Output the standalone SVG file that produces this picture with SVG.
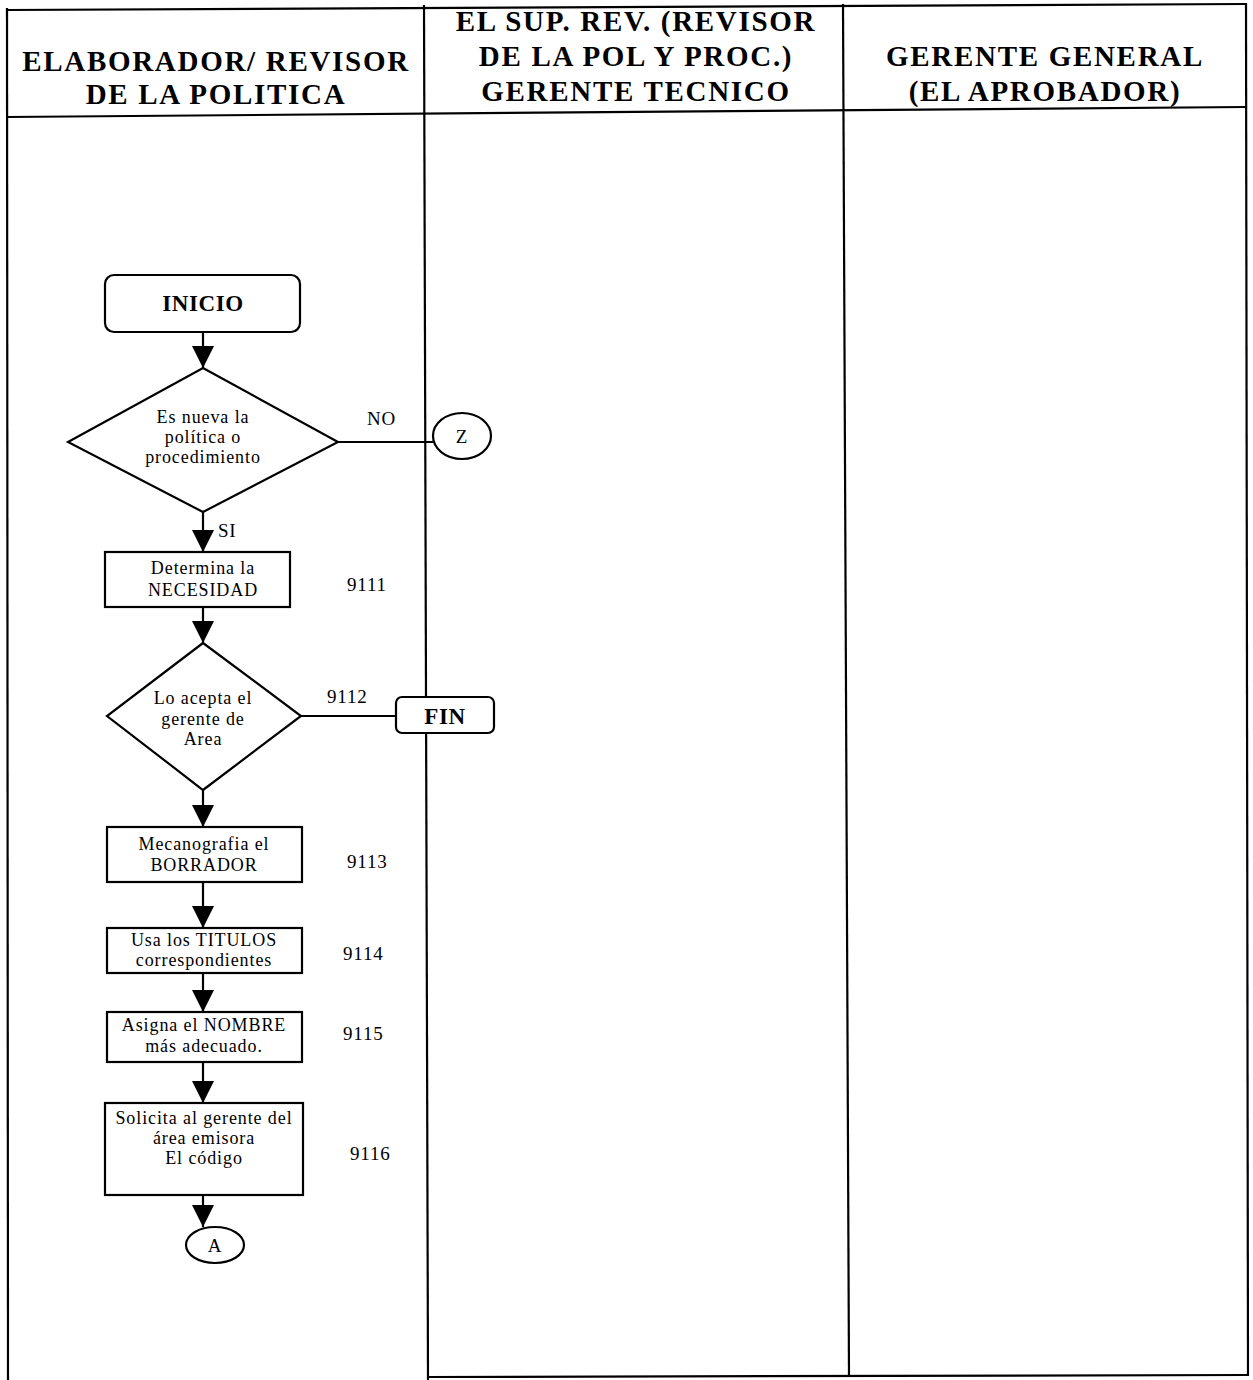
<svg xmlns="http://www.w3.org/2000/svg" width="1253" height="1380" viewBox="0 0 1253 1380">
  <style>
    .grid { stroke: #000; stroke-width: 2.2; fill: none; }
    .hdr { font-family: "Liberation Serif", "Times New Roman", serif; font-weight: bold; font-size: 29px; letter-spacing: 1.7px; text-anchor: middle; fill: #000; }
    .shape { fill: #fff; stroke: #000; stroke-width: 2.2; }
    .txt { font-family: "Liberation Serif", "Times New Roman", serif; font-size: 18px; letter-spacing: 0.9px; text-anchor: middle; fill: #000; }
    .bold { font-weight: bold; font-size: 23px; letter-spacing: 0.6px; }
    .big { font-size: 19px; }
    .num { font-family: "Liberation Serif", "Times New Roman", serif; font-size: 19px; letter-spacing: 0.8px; fill: #000; }
    .conn { stroke: #000; stroke-width: 2.2; fill: none; }
  </style>
  <defs>
    <marker id="arrow" markerUnits="userSpaceOnUse" markerWidth="22" markerHeight="22" viewBox="0 0 22 22" refX="22" refY="11" orient="auto">
      <path d="M0,0 L22,11 L0,22 Z" fill="#000"/>
    </marker>
  </defs>

  <rect width="1253" height="1380" fill="#fff"/>

  <!-- swimlane table -->
  <g id="lanes">
    <line class="grid" x1="7" y1="10" x2="1246" y2="4"/>
    <line class="grid" x1="7" y1="117" x2="1246" y2="107"/>
    <line class="grid" x1="7" y1="8" x2="8" y2="1380"/>
    <line class="grid" x1="424" y1="5" x2="428" y2="1380"/>
    <line class="grid" x1="843" y1="4" x2="849" y2="1376"/>
    <line class="grid" x1="1246" y1="3" x2="1248" y2="1376"/>
    <line class="grid" x1="428" y1="1377" x2="1248" y2="1375"/>
  </g>

  <!-- lane headings -->
  <g id="lane-headers">
    <text class="hdr" x="216" y="71">ELABORADOR/ REVISOR</text>
    <text class="hdr" x="216" y="104">DE LA POLITICA</text>
    <text class="hdr" x="636" y="31">EL SUP. REV. (REVISOR</text>
    <text class="hdr" x="636" y="66">DE LA POL Y PROC.)</text>
    <text class="hdr" x="636" y="101">GERENTE TECNICO</text>
    <text class="hdr" x="1045" y="66">GERENTE GENERAL</text>
    <text class="hdr" x="1045" y="101">(EL APROBADOR)</text>
  </g>

  <!-- connectors -->
  <g id="connectors">
    <line class="conn" x1="203" y1="332" x2="203" y2="368" marker-end="url(#arrow)"/>
    <line class="conn" x1="203" y1="512" x2="203" y2="552" marker-end="url(#arrow)"/>
    <line class="conn" x1="338" y1="442" x2="433" y2="442"/>
    <line class="conn" x1="203" y1="607" x2="203" y2="643" marker-end="url(#arrow)"/>
    <line class="conn" x1="301" y1="716" x2="396" y2="716"/>
    <line class="conn" x1="203" y1="790" x2="203" y2="827" marker-end="url(#arrow)"/>
    <line class="conn" x1="203" y1="882" x2="203" y2="928" marker-end="url(#arrow)"/>
    <line class="conn" x1="203" y1="973" x2="203" y2="1012" marker-end="url(#arrow)"/>
    <line class="conn" x1="203" y1="1062" x2="203" y2="1103" marker-end="url(#arrow)"/>
    <line class="conn" x1="203" y1="1195" x2="203" y2="1227" marker-end="url(#arrow)"/>
    <text class="num" x="218" y="537">SI</text>
    <text class="num" x="367" y="425">NO</text>
    <text class="num" x="327" y="703">9112</text>
  </g>

  <g id="inicio">
    <rect class="shape" x="105" y="275" width="195" height="57" rx="9"/>
    <text class="txt bold" x="203" y="311">INICIO</text>
  </g>

  <g id="d-nueva">
    <polygon class="shape" points="203,368 338,442 203,512 68,442"/>
    <text class="txt" x="203" y="423">Es nueva la</text>
    <text class="txt" x="203" y="443">política o</text>
    <text class="txt" x="203" y="463">procedimiento</text>
  </g>

  <g id="conn-z">
    <ellipse class="shape" cx="462" cy="436" rx="29" ry="23"/>
    <text class="txt big" x="462" y="443">Z</text>
  </g>

  <g id="n9111">
    <rect class="shape" x="105" y="552" width="185" height="55"/>
    <text class="txt" x="203" y="574">Determina la</text>
    <text class="txt" x="203" y="596">NECESIDAD</text>
    <text class="num" x="347" y="591">9111</text>
  </g>

  <g id="d-acepta">
    <polygon class="shape" points="203,643 301,716 203,790 107,716"/>
    <text class="txt" x="203" y="704">Lo acepta el</text>
    <text class="txt" x="203" y="725">gerente de</text>
    <text class="txt" x="203" y="745">Area</text>
  </g>

  <g id="fin">
    <rect class="shape" x="396" y="697" width="98" height="36" rx="6"/>
    <text class="txt bold" x="445" y="724">FIN</text>
  </g>

  <g id="n9113">
    <rect class="shape" x="107" y="827" width="195" height="55"/>
    <text class="txt" x="204" y="850">Mecanografia  el</text>
    <text class="txt" x="204" y="871">BORRADOR</text>
    <text class="num" x="347" y="868">9113</text>
  </g>

  <g id="n9114">
    <rect class="shape" x="107" y="928" width="195" height="45"/>
    <text class="txt" x="204" y="946">Usa los TITULOS</text>
    <text class="txt" x="204" y="966">correspondientes</text>
    <text class="num" x="343" y="960">9114</text>
  </g>

  <g id="n9115">
    <rect class="shape" x="107" y="1012" width="195" height="50"/>
    <text class="txt" x="204" y="1031">Asigna el NOMBRE</text>
    <text class="txt" x="204" y="1052">más adecuado.</text>
    <text class="num" x="343" y="1040">9115</text>
  </g>

  <g id="n9116">
    <rect class="shape" x="105" y="1103" width="198" height="92"/>
    <text class="txt" x="204" y="1124">Solicita al gerente del</text>
    <text class="txt" x="204" y="1144">área emisora</text>
    <text class="txt" x="204" y="1164">El código</text>
    <text class="num" x="350" y="1160">9116</text>
  </g>

  <g id="conn-a">
    <ellipse class="shape" cx="215" cy="1245" rx="29" ry="18"/>
    <text class="txt big" x="215" y="1252">A</text>
  </g>
</svg>
